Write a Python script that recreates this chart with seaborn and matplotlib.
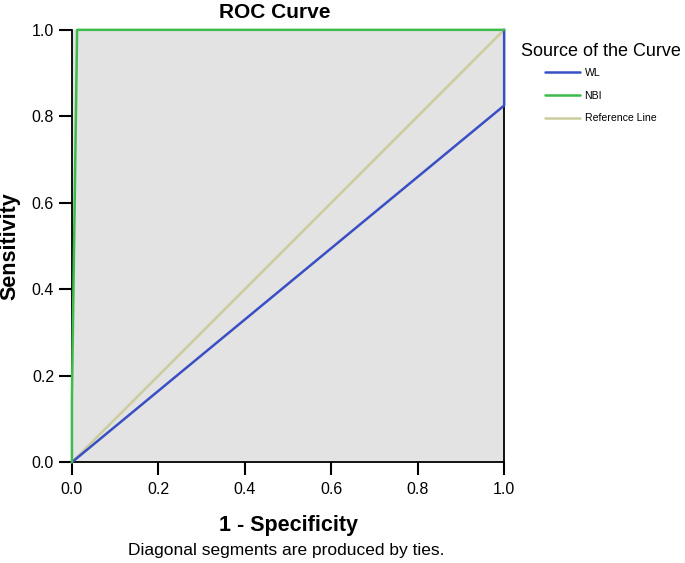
import matplotlib
matplotlib.use('Agg')
import matplotlib.pyplot as plt
import seaborn as sns
import pandas as pd

# ROC points
wl_fpr = [0.0, 1.0, 1.0]
wl_tpr = [0.0, 0.825, 1.0]
nbi_fpr = [0.0, 0.0, 0.012, 1.0]
nbi_tpr = [0.0, 0.15, 1.0, 1.0]
ref_fpr = [0.0, 1.0]
ref_tpr = [0.0, 1.0]

series_names = ['WL', 'NBI', 'Reference Line']
series_colors = ['#3a4fc4', '#3dbb4c', '#cccc9c']

ticks = [0.0, 0.2, 0.4, 0.6, 0.8, 1.0]
tick_labels = ['0.0', '0.2', '0.4', '0.6', '0.8', '1.0']

sns.set_style('white')
plt.rcParams['font.family'] = ['Liberation Sans', 'DejaVu Sans']
for key in ['text.color', 'axes.labelcolor', 'xtick.color', 'ytick.color']:
    plt.rcParams[key] = 'black'

fig = plt.figure(figsize=(6.85, 5.63), dpi=100)
ax = fig.add_axes([0.105, 0.179, 0.631, 0.768])
ax.set_facecolor('#e3e3e3')

frames = []
for name, xs, ys in [('WL', wl_fpr, wl_tpr), ('NBI', nbi_fpr, nbi_tpr),
                     ('Reference Line', ref_fpr, ref_tpr)]:
    frames.append(pd.DataFrame({'fpr': xs, 'tpr': ys, 'Source': name}))
df = pd.concat(frames, ignore_index=True)

# draw reference first so the curves sit on top
for name, color, z in [('Reference Line', series_colors[2], 2),
                       ('WL', series_colors[0], 3),
                       ('NBI', series_colors[1], 4)]:
    sub = df[df['Source'] == name]
    sns.lineplot(data=sub, x='fpr', y='tpr', sort=False, estimator=None,
                 color=color, linewidth=1.8, ax=ax, zorder=z, label=name,
                 clip_on=False)

ax.set_xlim(0, 1)
ax.set_ylim(0, 1)
ax.set_xticks(ticks)
ax.set_xticklabels(tick_labels)
ax.set_yticks(ticks)
ax.set_yticklabels(tick_labels)
ax.tick_params(axis='both', direction='out', length=9.4, width=1.5, labelsize=11.5,
               color='black', bottom=True, left=True)
ax.tick_params(axis='x', pad=5)
ax.tick_params(axis='y', pad=3.5)
for side in ['left', 'bottom', 'right']:
    ax.spines[side].set_visible(True)
    ax.spines[side].set_color('black')
    ax.spines[side].set_linewidth(1.3)
ax.spines['top'].set_visible(False)

ax.set_xlabel('1 - Specificity', fontsize=15.5, fontweight='bold')
ax.xaxis.set_label_coords(0.5, -0.122)
ax.set_ylabel('Sensitivity', fontsize=15.5, fontweight='bold')
ax.yaxis.set_label_coords(-0.118, 0.5)

fig.text(275 / 685, 1 - 12 / 563, 'ROC Curve', ha='center', va='center',
         fontsize=15, fontweight='bold')
fig.text(0.418, 1 - 550 / 563, 'Diagonal segments are produced by ties.',
         ha='center', va='center', fontsize=12.5)

handles, labels = ax.get_legend_handles_labels()
order = [labels.index(n) for n in series_names]
fig.text(521 / 685, 1 - 51 / 563, 'Source of the Curve', ha='left', va='center',
         fontsize=13)
leg = fig.legend([handles[i] for i in order], [labels[i] for i in order],
                 loc='upper left', bbox_to_anchor=(545 / 685, 1 - 68 / 563),
                 frameon=False, fontsize=7.6, handlelength=3.3, handletextpad=0.45,
                 labelspacing=1.2, borderpad=0, borderaxespad=0)
ax.get_legend().remove()
for line in leg.get_lines():
    line.set_linewidth(1.8)

fig.savefig('out.png', dpi=100)
